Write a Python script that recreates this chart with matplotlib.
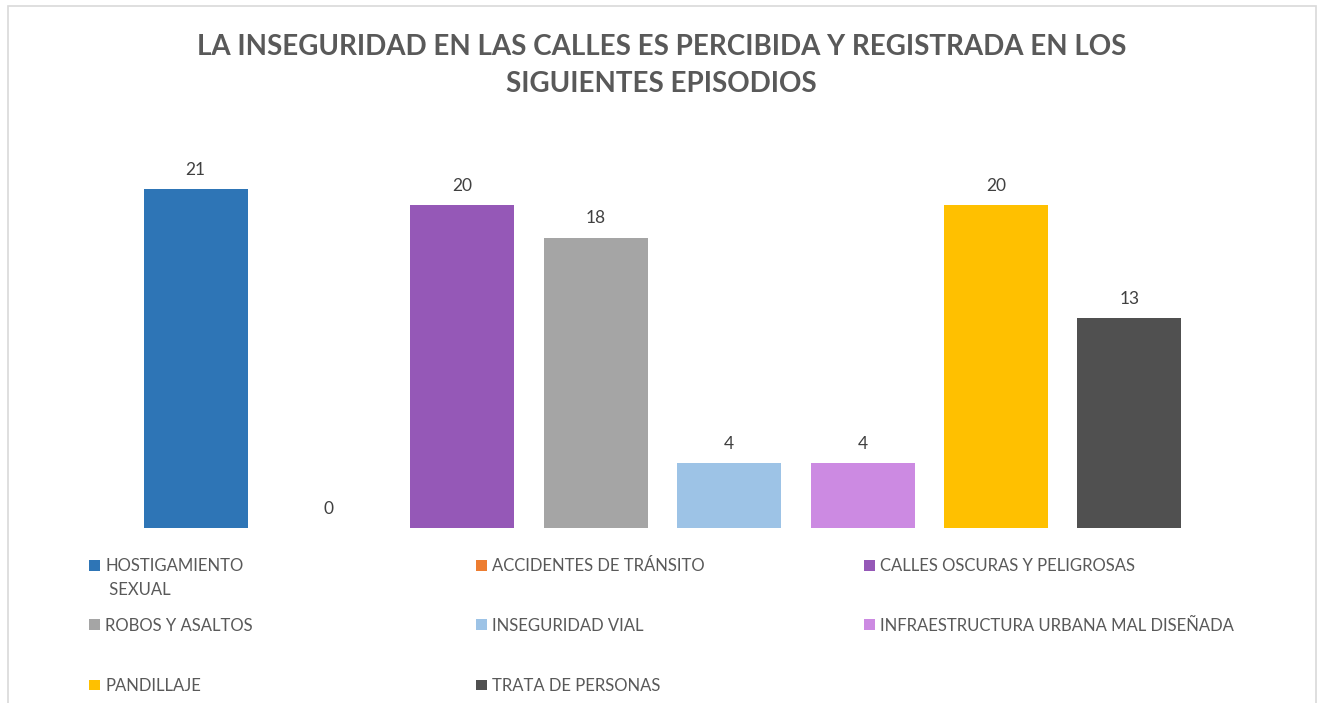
import matplotlib
matplotlib.use("Agg")
import matplotlib.pyplot as plt
from matplotlib.patches import Rectangle

# data
categories = ["HOSTIGAMIENTO\n SEXUAL", "ACCIDENTES DE TRÁNSITO", "CALLES OSCURAS Y PELIGROSAS",
              "ROBOS Y ASALTOS", "INSEGURIDAD VIAL", "INFRAESTRUCTURA URBANA MAL DISEÑADA",
              "PANDILLAJE", "TRATA DE PERSONAS"]
values = [21, 0, 20, 18, 4, 4, 20, 13]
colors = ["#2E75B6", "#ED7D31", "#9558B7", "#A5A5A5", "#9DC3E6", "#CC8AE2", "#FFC000", "#505050"]

title = "LA INSEGURIDAD EN LAS CALLES ES PERCIBIDA Y REGISTRADA EN LOS\nSIGUIENTES EPISODIOS"

plt.rcParams['font.family'] = ['Lato', 'DejaVu Sans']

fig = plt.figure(figsize=(13.23, 7.03), dpi=100)
ax = fig.add_axes([0.0974, 0.2489, 0.8067, 0.551])

x = list(range(len(values)))
bars = ax.bar(x, values, width=0.78, color=colors)
for b, v in zip(bars, values):
    ax.annotate(str(v), (b.get_x() + b.get_width() / 2, v), xytext=(0, 8),
                textcoords="offset points", ha="center", va="bottom",
                fontsize=12.5, color="#404040")

ax.set_xlim(-0.5, len(values) - 0.5)
ax.set_ylim(0, 24)
ax.axis("off")

fig.text(0.5, 0.907, title, ha="center", va="center", fontsize=20, fontweight="bold",
         color="#595959", linespacing=1.5)

# legend, laid out row by row in three columns
col_x = [0.0673, 0.3598, 0.6531]
row_y = [0.1956, 0.111, 0.0256]
for i, (lab, c) in enumerate(zip(categories, colors)):
    cx = col_x[i % 3]
    cy = row_y[i // 3]
    fig.patches.append(Rectangle((cx, cy - 0.0078), 0.0083, 0.0156, transform=fig.transFigure,
                                 facecolor=c, edgecolor="none"))
    fig.text(cx + 0.0121, cy + 0.0105, lab, ha="left", va="top", fontsize=12,
             color="#595959", linespacing=1.6)

# chart frame
fig.patches.append(Rectangle((0.006, -0.01), 0.9887, 1.0015, transform=fig.transFigure,
                             facecolor="none", edgecolor="#D9D9D9", linewidth=1.2))

fig.savefig("out.png", dpi=100)
